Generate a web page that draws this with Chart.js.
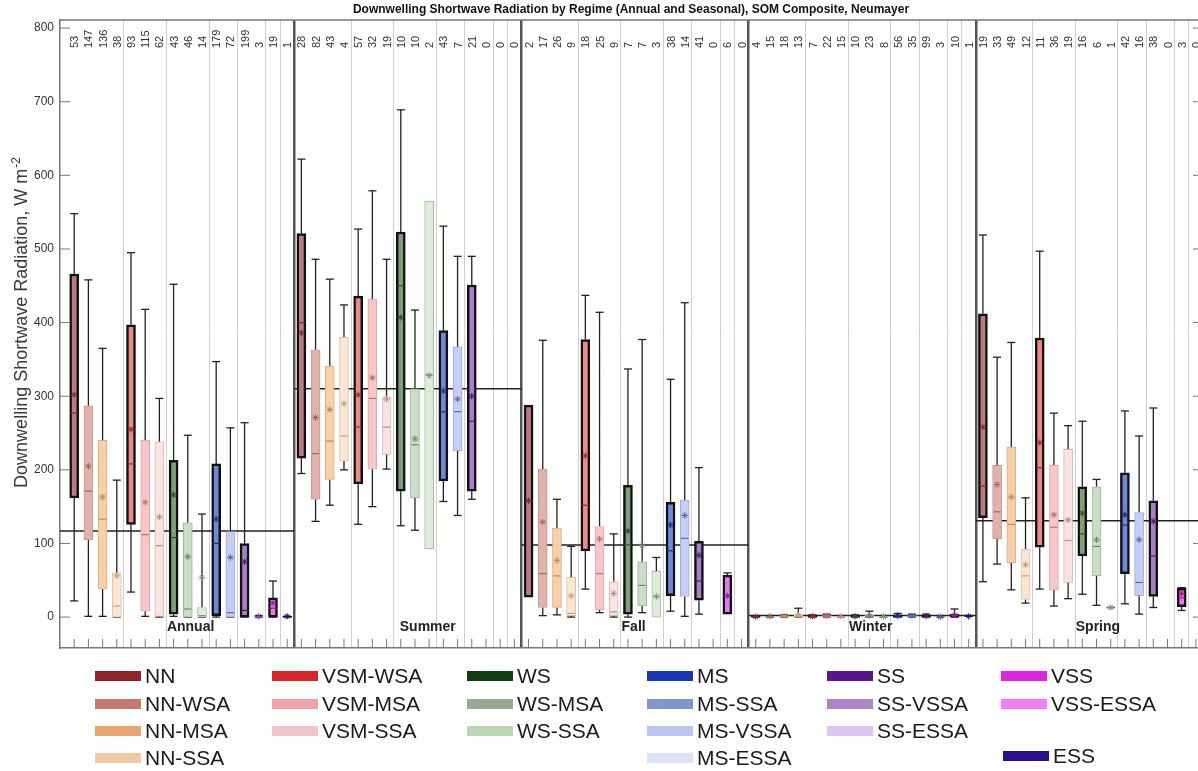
<!DOCTYPE html>
<html>
<head>
<meta charset="utf-8">
<script src="https://cdn.jsdelivr.net/npm/chart.js@4.4.1/dist/chart.umd.min.js"></script>
<style>
html, body { margin: 0; padding: 0; background: #fff; overflow: hidden; }
</style>
</head>
<body>
<canvas id="dsw" width="1215" height="771"></canvas>
<script>
const regimes = ['NN', 'NN-WSA', 'NN-MSA', 'NN-SSA', 'VSM-WSA', 'VSM-MSA', 'VSM-SSA', 'WS', 'WS-MSA', 'WS-SSA',
    'MS', 'MS-SSA', 'SS', 'SS-VSSA', 'VSS', 'ESS'];
const seasons = ['Annual', 'Summer', 'Fall', 'Winter', 'Spring'];
const seasonMeans = [117, 310, 98, 2, 131];

const annualCounts = [53, 147, 136, 38, 93, 115, 62, 43, 46, 14, 179, 72, 199, 3, 19, 1];
const summerCounts = [28, 82, 43, 4, 57, 32, 19, 10, 10, 2, 43, 7, 21, 0, 0, 0];
const fallCounts = [2, 17, 26, 9, 18, 25, 9, 7, 7, 3, 38, 14, 41, 0, 6, 0];
const winterCounts = [4, 15, 18, 13, 7, 22, 15, 10, 23, 8, 56, 35, 99, 3, 10, 1];
const springCounts = [19, 33, 49, 12, 11, 36, 19, 16, 6, 1, 42, 16, 38, 0, 3, 0];

// [whisker low, q1, median, q3, whisker high, mean]
const annualStats = [
    [22, 162, 277, 466, 548, 302],
    [1, 105, 171, 287, 458, 205],
    [1, 38, 133, 240, 365, 163],
    [0, 0, 15, 60, 186, 56],
    [34, 126, 208, 397, 495, 255],
    [1, 8, 112, 240, 418, 156],
    [0, 1, 97, 238, 297, 136],
    [1, 4, 108, 213, 452, 166],
    [0, 0, 11, 128, 247, 82],
    [0, 0, 2, 13, 140, 54],
    [0, 2, 100, 208, 347, 133],
    [0, 0, 6, 116, 257, 81],
    [0, 0, 9, 100, 264, 75],
    [0, 0, 0, 1, 2, 1],
    [0, 0, 12, 26, 49, 19],
    [0, 0, 1, 1, 1, 1],
];
const summerStats = [
    [195, 216, 400, 521, 622, 386],
    [130, 160, 222, 363, 486, 271],
    [152, 187, 239, 341, 459, 282],
    [200, 212, 246, 380, 424, 290],
    [126, 181, 258, 436, 527, 302],
    [150, 201, 297, 432, 579, 325],
    [201, 221, 258, 299, 486, 296],
    [124, 171, 450, 523, 689, 407],
    [118, 162, 234, 310, 417, 242],
    [null, 93, 329, 565, null, 328],
    [157, 185, 279, 389, 531, 307],
    [138, 226, 279, 367, 490, 296],
    [160, 171, 266, 451, 490, 300],
    null, null, null,
];
const fallStats = [
    [null, 27, 158, 288, null, 158],
    [2, 13, 59, 201, 376, 129],
    [3, 13, 56, 121, 160, 77],
    [0, 2, 5, 54, 96, 29],
    [38, 90, 152, 377, 437, 219],
    [6, 10, 59, 123, 414, 106],
    [0, 2, 7, 48, 113, 32],
    [0, 4, 98, 179, 337, 117],
    [6, 15, 43, 75, 377, 97],
    [null, 0, 28, 62, 81, 28],
    [8, 29, 90, 156, 323, 125],
    [1, 28, 107, 159, 427, 138],
    [4, 23, 49, 103, 203, 84],
    null,
    [null, 4, 29, 57, 60, 29],
    null,
];
const winterStats = [
    [0, 0, 0, 1, 1, 0.5],
    [0, 0, 0, 1, 2, 1],
    [0, 0, 1, 2, 3, 1.5],
    [0, 0, 1, 3, 12, 3],
    [0, 0, 1, 2, 3, 1],
    [0, 0, 1, 2, 4, 1.5],
    [0, 0, 0, 1, 2, 1],
    [0, 0, 1, 2, 3, 1],
    [0, 0, 1, 3, 8, 2],
    [0, 0, 0, 1, 2, 1],
    [0, 0, 1, 3, 5, 2],
    [0, 0, 1, 2, 4, 1.5],
    [0, 0, 1, 2, 4, 1.5],
    [0, 0, 0, 1, 1, 0.5],
    [0, 0, 2, 4, 11, 3],
    [1, 1, 1, 1, 1, 1],
];
const springStats = [
    [48, 135, 178, 412, 519, 258],
    [72, 106, 143, 206, 353, 180],
    [37, 74, 126, 231, 373, 163],
    [19, 24, 56, 92, 162, 71],
    [38, 95, 203, 379, 497, 237],
    [15, 37, 122, 206, 277, 139],
    [25, 47, 104, 228, 260, 132],
    [31, 83, 113, 177, 266, 141],
    [16, 56, 96, 177, 187, 105],
    [13, 13, 13, 13, 13, 13],
    [18, 59, 125, 196, 280, 139],
    [4, 29, 47, 142, 246, 105],
    [13, 28, 83, 158, 284, 130],
    null,
    [9, 14, 26, 39, 40, 32],
    null,
];

const legendNames = ['NN', 'NN-WSA', 'NN-MSA', 'NN-SSA', 'VSM-WSA', 'VSM-MSA', 'VSM-SSA', 'WS', 'WS-MSA', 'WS-SSA',
    'MS', 'MS-SSA', 'MS-VSSA', 'MS-ESSA', 'SS', 'SS-VSSA', 'SS-ESSA', 'VSS', 'VSS-ESSA', 'ESS'];

// styles
const legendColors = ['#8e2328', '#c47a6f', '#eaa46e', '#f0caa2', '#d8262a', '#eea3a6', '#f1c6c8', '#0e3f10', '#94ab90', '#bad6b4',
    '#1a36b4', '#8494cc', '#bac6f0', '#d9e2f6', '#5a1390', '#aa85c8', '#ddc3f0', '#e022e4', '#f47ff2', '#2a0f8e'];
const boxFill = ['#b97c80', '#dfb3ab', '#f6d0a8', '#f9e7d3', '#e98b8d', '#f6c7c9', '#fae3e3', '#7da07b', '#cbdcc8', '#deecda',
    '#6f86d9', '#c6cef3', '#a980c8', '#d3bde6', '#e57ae8', '#4030a8'];
const boxEdge = ['#111', '#c49891', '#dcae84', '#dcc4aa', '#111', '#e0a6aa', '#dcb4b6', '#111', '#9fb49c', '#a6bea2',
    '#111', '#9eaad8', '#111', '#a98cc4', '#111', '#111'];
const boxEdgeWidth = [2.5, 1, 1, 1, 2.5, 1, 1, 2.5, 1, 1, 2.5, 1, 2.5, 1, 2.5, 2.5];
const markColor = ['#7b2b33', '#a8645c', '#c6855a', '#c4a07a', '#a5282b', '#c46b70', '#c08a8c', '#2d4d2b', '#6e8a6a', '#7a9a76',
    '#1c2f8a', '#5a6ab0', '#4a1a70', '#6a4a8a', '#9a1a9e', '#200a70'];

const allCounts = [annualCounts, summerCounts, fallCounts, winterCounts, springCounts];
const allStats = [annualStats, summerStats, fallStats, winterStats, springStats];
const perSeason = regimes.length;

const boxes = [], boxBg = [], boxBd = [], boxBw = [];
const medians = [], medCol = [];
const means = [], meanCol = [];
const whiskers = [], caps = [];
allStats.forEach((rows, s) => rows.forEach((r, i) => {
    if (!r) return;
    const x = s * perSeason + i;
    const [lo, q1, med, q3, hi, mean] = r;
    boxes.push({x: x, y: [q1, q3]});
    boxBg.push(boxFill[i]); boxBd.push(boxEdge[i]); boxBw.push(boxEdgeWidth[i]);
    medians.push({x: x, y: med}); medCol.push(markColor[i]);
    means.push({x: x, y: mean}); meanCol.push(markColor[i]);
    if (lo != null) { whiskers.push({x: x, y: lo}, {x: x, y: q1}, {x: x, y: null}); caps.push({x: x, y: lo}); }
    if (hi != null) { whiskers.push({x: x, y: q3}, {x: x, y: hi}, {x: x, y: null}); caps.push({x: x, y: hi}); }
}));

const seasonLine = [];
seasonMeans.forEach((m, s) => {
    const a = s === 0 ? -1 : s * perSeason - 0.5;
    const b = s * perSeason + perSeason - 0.5;
    seasonLine.push({x: a, y: m}, {x: b, y: m}, {x: b, y: null});
});

// separators between regime groups and seasons
const separators = [];
for (let s = 0; s < seasons.length; s++) {
    [3.5, 6.5, 9.5, 11.5, 13.5, 14.5, 15.5].forEach(v => separators.push(s * perSeason + v));
}
const isSeasonEdge = ctx => ctx.tick && Math.abs((ctx.tick.value + 0.5) % perSeason) < 0.01;

const yTickValues = [0, 100, 200, 300, 400, 500, 600, 700, 800];
const seasonLabelSlot = [8.2, 24.9, 39.4, 56.1, 72.1];

Chart.defaults.font.family = "'Liberation Sans', Arial, sans-serif";

const decor = {
    id: 'decor',
    afterDraw(chart) {
        const {ctx, chartArea: a, scales: {x, y}} = chart;
        const seg = (x1, y1, x2, y2) => { ctx.beginPath(); ctx.moveTo(x1, y1); ctx.lineTo(x2, y2); ctx.stroke(); };
        ctx.save();
        ctx.strokeStyle = '#777';
        ctx.lineWidth = 1.5;
        seg(a.left, a.top, a.right, a.top);
        seg(a.right, a.top, a.right, a.bottom);
        ctx.lineWidth = 1;
        yTickValues.forEach(v => {
            const p = y.getPixelForValue(v);
            seg(a.left, p, a.left + 10, p);
            seg(a.right - 10, p, a.right, p);
        });
        for (let k = 0; k < perSeason * seasons.length; k++) {
            const p = x.getPixelForValue(k);
            seg(p, a.bottom, p, a.bottom - 9);
        }

        // sample counts
        ctx.fillStyle = '#333';
        ctx.font = '11px "Liberation Sans", Arial, sans-serif';
        ctx.textAlign = 'left';
        ctx.textBaseline = 'middle';
        allCounts.forEach((cs, s) => cs.forEach((c, i) => {
            ctx.save();
            ctx.translate(x.getPixelForValue(s * perSeason + i) + 1, a.top + 28);
            ctx.rotate(-Math.PI / 2);
            ctx.fillText(String(c), 0, 0);
            ctx.restore();
        }));

        // season names
        ctx.font = 'bold 14px "Liberation Sans", Arial, sans-serif';
        ctx.fillStyle = '#222';
        ctx.textAlign = 'center';
        seasons.forEach((name, s) => {
            ctx.fillText(name, x.getPixelForValue(seasonLabelSlot[s]), y.getPixelForValue(-13));
        });

        // title
        ctx.font = 'bold 12px "Liberation Sans", Arial, sans-serif';
        ctx.fillStyle = '#111';
        ctx.fillText('Downwelling Shortwave Radiation by Regime (Annual and Seasonal), SOM Composite, Neumayer', 631, 10);

        // y axis title with superscript
        ctx.save();
        ctx.translate(27, 323);
        ctx.rotate(-Math.PI / 2);
        ctx.fillStyle = '#3a3a3a';
        ctx.textBaseline = 'alphabetic';
        const main = 'Downwelling Shortwave Radiation, W m';
        ctx.font = '18px "Liberation Sans", Arial, sans-serif';
        const w1 = ctx.measureText(main).width;
        ctx.font = '12px "Liberation Sans", Arial, sans-serif';
        const w2 = ctx.measureText('-2').width;
        const x0 = -(w1 + w2) / 2;
        ctx.textAlign = 'left';
        ctx.font = '18px "Liberation Sans", Arial, sans-serif';
        ctx.fillText(main, x0, 0);
        ctx.font = '12px "Liberation Sans", Arial, sans-serif';
        ctx.fillText('-2', x0 + w1 + 1, -7);
        ctx.restore();

        // legend
        const colX = [95, 272, 467, 647, 827, 1001];
        const rowY = [676, 704, 731, 758];
        const layout = [[0, 1, 2, 3], [4, 5, 6], [7, 8, 9], [10, 11, 12, 13], [14, 15, 16], [17, 18]];
        ctx.font = '21px "Liberation Sans", Arial, sans-serif';
        ctx.textAlign = 'left';
        ctx.textBaseline = 'middle';
        const entry = (idx, cx, cy) => {
            ctx.fillStyle = legendColors[idx];
            ctx.fillRect(cx, cy - 5, 46, 10);
            ctx.fillStyle = '#1a1a1a';
            ctx.fillText(legendNames[idx], cx + 50, cy + 1);
        };
        layout.forEach((col, c) => col.forEach((idx, r) => entry(idx, colX[c], rowY[r])));
        entry(19, 1003, 756);
        ctx.restore();
    }
};

new Chart(document.getElementById('dsw'), {
    type: 'bar',
    data: {
        datasets: [
            {
                type: 'line',
                data: means,
                showLine: false,
                pointStyle: 'star',
                pointRadius: 3.2,
                pointBorderWidth: 1,
                pointBorderColor: meanCol,
                pointBackgroundColor: meanCol,
                order: 0,
            },
            {
                type: 'line',
                data: medians,
                showLine: false,
                pointStyle: 'line',
                pointRadius: 3.6,
                pointBorderWidth: 1.2,
                pointBorderColor: medCol,
                order: 1,
            },
            {
                type: 'bar',
                data: boxes,
                backgroundColor: boxBg,
                borderColor: boxBd,
                borderWidth: boxBw,
                borderSkipped: false,
                barThickness: 9,
                grouped: false,
                order: 2,
            },
            {
                type: 'line',
                data: caps,
                showLine: false,
                pointStyle: 'line',
                pointRadius: 4,
                pointBorderWidth: 1.3,
                pointBorderColor: '#222',
                order: 3,
            },
            {
                type: 'line',
                data: whiskers,
                borderColor: '#222',
                borderWidth: 1.3,
                pointRadius: 0,
                spanGaps: false,
                order: 4,
            },
            {
                type: 'line',
                data: seasonLine,
                borderColor: '#222',
                borderWidth: 1.5,
                pointRadius: 0,
                spanGaps: false,
                order: 5,
            },
        ],
    },
    options: {
        responsive: false,
        animation: false,
        events: [],
        devicePixelRatio: 1,
        layout: {padding: {left: 0, top: 20, right: 12, bottom: 123}},
        plugins: {legend: {display: false}, tooltip: {enabled: false}, title: {display: false}},
        scales: {
            x: {
                type: 'linear',
                offset: false,
                min: -1,
                max: 79.5,
                afterBuildTicks: axis => { axis.ticks = separators.map(v => ({value: v})); },
                afterFit: axis => { axis.height = 0; },
                ticks: {display: false},
                grid: {
                    offset: false,
                    drawTicks: false,
                    color: ctx => isSeasonEdge(ctx) ? '#555' : '#cfcfcf',
                    lineWidth: ctx => isSeasonEdge(ctx) ? 2.5 : 1,
                },
                border: {color: '#777', width: 1.5},
            },
            y: {
                type: 'linear',
                min: -42,
                max: 811,
                afterBuildTicks: axis => { axis.ticks = yTickValues.map(v => ({value: v})); },
                afterFit: axis => { axis.width = 60; },
                ticks: {color: '#333', font: {size: 12}, padding: 6},
                grid: {display: false, drawTicks: false, tickLength: 0},
                border: {color: '#777', width: 1.5},
            },
        },
    },
    plugins: [decor],
});
</script>
</body>
</html>
